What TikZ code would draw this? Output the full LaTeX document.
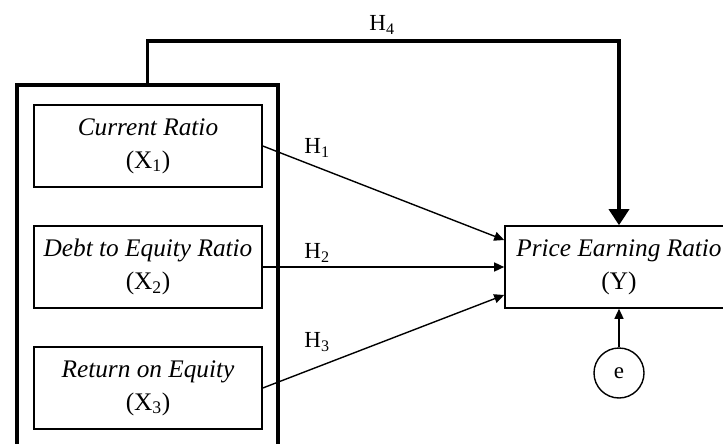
\documentclass[tikz,border=0pt]{standalone}
\usepackage{fontspec}
\setmainfont{Liberation Serif}
\usetikzlibrary{arrows.meta}
\tikzset{
  var/.style={draw, line width=1.6pt, minimum width=228pt, minimum height=82pt,
    align=center, inner sep=0pt, font=\fontsize{25.3}{33}\selectfont},
  grp/.style={draw, line width=3.5pt, minimum width=261pt, minimum height=430pt},
  err/.style={draw, circle, line width=1.4pt, minimum size=50pt, inner sep=0pt,
    font=\fontsize{23}{24}\selectfont},
  effect/.style={line width=1.4pt, -{Triangle[length=10pt,width=9pt]}},
  direct/.style={line width=3.5pt, -{Triangle[length=16pt,width=20pt]}},
  hyp/.style={font=\fontsize{23}{24}\selectfont},
}
\begin{document}
\begin{tikzpicture}[x=1pt, y=-1pt]
\useasboundingbox (0,0) rectangle (723,444);
\clip (0,0) rectangle (723,444);
% independent variables
\node[grp] (G) at (147.5,300) {};
\node[var] (X1) at (148,146) {\textit{Current Ratio}\\(X\textsubscript{1})};
\node[var] (X2) at (148,267) {\textit{Debt to Equity Ratio}\\(X\textsubscript{2})};
\node[var] (X3) at (148,388) {\textit{Return on Equity}\\(X\textsubscript{3})};
% dependent variable
\node[var] (Y) at (619,267) {\textit{Price Earning Ratio}\\(Y)};
\node[err] (e) at (619,373) {e};
% hypotheses
\draw[effect] (X1.east) -- ([yshift=27pt]Y.west);
\draw[effect] (X2.east) -- (Y.west);
\draw[effect] (X3.east) -- ([yshift=-28pt]Y.west);
\draw[effect] (e) -- (Y);
\draw[direct] (G.north) -- ++(0,-42) -| (Y.north);
\node[hyp] (h1) at (317,148) {H\textsubscript{1}};
\node[hyp] (h2) at (317,253) {H\textsubscript{2}};
\node[hyp] (h3) at (317,342) {H\textsubscript{3}};
\node[hyp] (h4) at (382,25) {H\textsubscript{4}};
\end{tikzpicture}
\end{document}
